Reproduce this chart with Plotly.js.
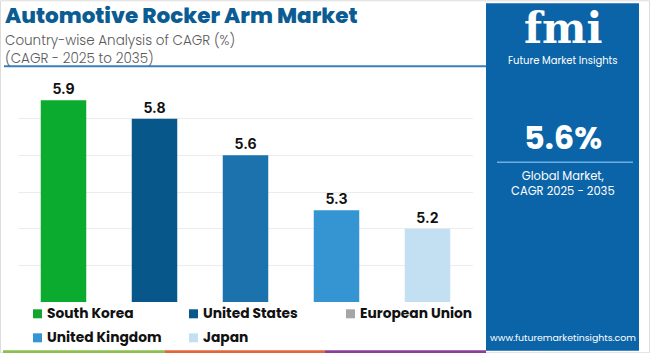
<!DOCTYPE html>
<html><head><meta charset="utf-8">
<script src="https://cdn.plot.ly/plotly-3.0.1.min.js"></script>
<style>html,body{margin:0;padding:0;background:#fff}#chart{width:650px;height:353px}</style>
</head><body><div id="chart"></div>
<script>
// ---- data ----
var countries = ["South Korea", "United States", "European Union", "United Kingdom", "Japan"];
var cagr = [5.9, 5.8, 5.6, 5.3, 5.2];
var barColors = ["#0aab2e", "#07578b", "#1b72ad", "#3595d3", "#c3e0f2"];
var legendColors = ["#12a52f", "#07578b", "#a6a6a6", "#3595d3", "#c3e0f2"];
var titleText = "Automotive Rocker Arm Market";
var subtitleLines = ["Country-wise Analysis of CAGR (%)", "(CAGR - 2025 to 2035)"];
var globalCagr = "5.6%";
var globalLabel = ["Global Market,", "CAGR 2025 - 2035"];
var yTicks = [4.8, 5.0, 5.2, 5.4, 5.6, 5.8, 6.0];

// ---- layout helpers (pixel -> paper) ----
var W = 650, H = 353, L = 18, R = 473, T = 81.7, B = 301.7;
function px(x){ return (x - L) / (R - L); }
function py(y){ return (B - y) / (B - T); }

var trace = {
  type: "bar",
  x: countries,
  y: cagr,
  marker: {color: barColors, line: {width: 0}},
  text: cagr.map(function(v){ return v.toFixed(1); }),
  textposition: "outside",
  cliponaxis: false,
  textfont: {family: "Inter, Arial, sans-serif", size: 14, color: "#111", weight: 700},
  hoverinfo: "skip",
  showlegend: false
};

var shapes = [];
var annotations = [];
var F = "Poppins, Inter, 'Open Sans', Arial, sans-serif";

function note(x, y, text, font, xanchor){
  annotations.push({xref:"paper", yref:"paper", x:x, y:y, xanchor:xanchor || "left", yanchor:"middle",
    showarrow:false, borderpad:0, text:text, font:font});
}

// outer thin border
shapes.push({type:"rect", xref:"paper", yref:"paper", x0:px(0.5), x1:px(649.5), y0:py(0.5), y1:py(352.5), line:{color:"#dcdcdc", width:1}, layer:"below"});
// title underline
shapes.push({type:"line", xref:"paper", yref:"paper", x0:px(4), x1:px(486), y0:py(66), y1:py(66), line:{color:"#3a7fbc", width:2}});
// right panel
shapes.push({type:"rect", xref:"paper", yref:"paper", x0:px(486), x1:px(639), y0:py(3), y1:py(350.5), fillcolor:"#0b64a7", line:{width:0}, layer:"below"});
// panel separator line
shapes.push({type:"line", xref:"paper", yref:"paper", x0:px(497), x1:px(633), y0:py(162), y1:py(162), line:{color:"#6aaee3", width:1.5}});
// bottom stripe
var stripe = [[3,165,"#8cbf4f"],[165,325,"#e2663a"],[325,486,"#8a3f98"]];
stripe.forEach(function(s){
  shapes.push({type:"rect", xref:"paper", yref:"paper", x0:px(s[0]), x1:px(s[1]), y0:py(350), y1:py(353), fillcolor:s[2], line:{width:0}});
});

// title and subtitles
note(px(4), py(15), titleText, {family:F, size:21.5, color:"#0b5c93", weight:800});
note(px(4), py(40), subtitleLines[0], {family:F, size:13.5, color:"#5a5a5a", weight:300});
note(px(4), py(58.5), subtitleLines[1], {family:F, size:13.5, color:"#5a5a5a", weight:300});

// legend (manual, two rows of three columns)
var legX = [33, 189, 346], legY = [313, 337];
countries.forEach(function(c, i){
  var col = i % 3, row = Math.floor(i / 3);
  var x = legX[col], y = legY[row];
  shapes.push({type:"rect", xref:"paper", yref:"paper", x0:px(x), x1:px(x+9), y0:py(y-4), y1:py(y+5), fillcolor:legendColors[i], line:{width:0}});
  note(px(x+13), py(y), c, {family:F, size:13.8, color:"#111", weight:700});
});

// right panel texts
var cx = px(562.5);
note(cx, py(28), "fmi", {family:"'DejaVu Serif', serif", size:42, color:"#ffffff", weight:700}, "center");
note(cx, py(60), "Future Market Insights", {family:F, size:10, color:"#ffffff"}, "center");
note(cx, py(137), globalCagr, {family:F, size:32, color:"#ffffff", weight:700}, "center");
note(cx, py(183), globalLabel.join("<br>"), {family:F, size:11.5, color:"#ffffff"}, "center");
note(cx, py(337), "www.futuremarketinsights.com", {family:F, size:9.4, color:"#ffffff"}, "center");

var layout = {
  width: W, height: H,
  margin: {l: L, r: W - R, t: T, b: H - B, pad: 0},
  paper_bgcolor: "#ffffff", plot_bgcolor: "#ffffff",
  bargap: 0.5,
  showlegend: false,
  xaxis: {showticklabels: false, showgrid: false, zeroline: false, showline: false, fixedrange: true},
  yaxis: {range: [4.8, 6.0], tickvals: yTicks, showticklabels: false, showgrid: true, gridcolor: "#ececec", gridwidth: 1,
          zeroline: false, showline: false, fixedrange: true},
  shapes: shapes,
  annotations: annotations
};

Plotly.newPlot("chart", [trace], layout, {displayModeBar: false, staticPlot: true});
</script></body></html>
